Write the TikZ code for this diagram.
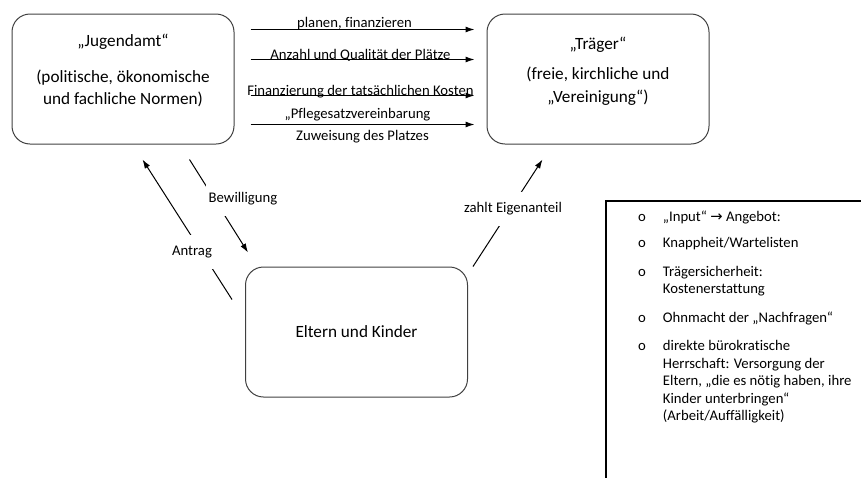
\documentclass[tikz,border=0pt]{standalone}
\usepackage{fontspec}
\setmainfont[Ligatures={TeX,NoCommon}]{Carlito}
\newfontfamily\pfeilfont{DejaVu Sans}
\usetikzlibrary{arrows.meta}
\tikzset{
  rahmen/.style={draw=black!75, line width=1pt, rounded corners=18pt, minimum width=222pt, minimum height=130pt},
  boxtext/.style={font=\fontsize{17.2}{22.5}\selectfont, align=center, inner sep=0pt},
  pfeil/.style={line width=1pt, -{Latex[length=9pt,width=6pt]}},
  beschriftung/.style={font=\fontsize{14.7}{17.5}\selectfont, inner sep=0pt, anchor=base},
  luecke/.style={font=\fontsize{14.7}{17.5}\selectfont, fill=white, inner xsep=3pt, minimum height=34pt},
  listrahmen/.style={draw=black, line width=1.2pt},
  listtext/.style={font=\fontsize{14.7}{17.5}\selectfont, inner sep=0pt}
}
\begin{document}
\begin{tikzpicture}[x=1pt,y=-1pt]
    \useasboundingbox (0,0) rectangle (861,477);

    % Kästen
    \node[rahmen] (jugendamt) at (123,79) {};
    \node[rahmen] (traeger) at (598,79) {};
    \node[rahmen, boxtext] (eltern) at (356.5,332) {Eltern und Kinder};

    % Texte in den Kästen
    \node[boxtext] (jugendamttitel) at (123,42) {„Jugendamt“};
    \node[boxtext] (jugendamtnormen) at (123,88.5) {(politische, ökonomische\\und fachliche Normen)};
    \node[boxtext] (traegertitel) at (598,45) {„Träger“};
    \node[boxtext] (traegerarten) at (598,86) {(freie, kirchliche und\\„Vereinigung“)};

    % Pfeile vom Jugendamt zum Träger
    \draw[pfeil] ([shift={(16,16)}]jugendamt.north east) -- ([shift={(-12,16)}]traeger.north west)
        node[beschriftung, midway, xshift=-8pt, yshift=2.5pt] (planen) {planen, finanzieren};
    \draw[pfeil] ([shift={(16,46)}]jugendamt.north east) -- ([shift={(-12,46)}]traeger.north west)
        node[beschriftung, midway, xshift=-2pt, yshift=0.5pt] (anzahl) {Anzahl und Qualität der Plätze};
    \draw[pfeil] ([shift={(16,82)}]jugendamt.north east) -- ([shift={(-12,82)}]traeger.north west)
        node[beschriftung, midway, xshift=-2pt, yshift=0.5pt] (kosten) {Finanzierung der tatsächlichen Kosten};
    \draw[pfeil] ([shift={(16,111)}]jugendamt.north east) -- ([shift={(-12,111)}]traeger.north west)
        node[beschriftung, midway, xshift=-5pt, yshift=6.5pt] (pflegesatz) {„Pflegesatzvereinbarung}
        node[beschriftung, midway, yshift=-15.5pt] (zuweisung) {Zuweisung des Platzes};

    % Antrag, Bewilligung, Eigenanteil
    \draw[pfeil] ([shift={(-13,33)}]eltern.north west) -- ([shift={(131,15)}]jugendamt.south west);
    \node[luecke] (antrag) at (192,252) {Antrag};
    \draw[pfeil] ([shift={(178,15)}]jugendamt.south west) -- ([shift={(3,-14)}]eltern.north west);
    \node[luecke] (bewilligung) at (243,199) {Bewilligung};
    \draw[pfeil] ([shift={(5,0)}]eltern.north east) -- ([shift={(56,15)}]traeger.south west);
    \node[luecke] (eigenanteil) at (513,209) {zahlt Eigenanteil};

    % Liste rechts
    \draw[listrahmen] (606,201) rectangle (900,520);
    \node[listtext, anchor=base west] (liste) at (638,221) {%
      \begin{tabular}[t]{@{}l@{\hspace{17pt}}l@{}}
        o & „Input“ {\pfeilfont →} Angebot:\\[8.5pt]
        o & Knappheit/Wartelisten\\[11.5pt]
        o & Trägersicherheit:\\
          & Kostenerstattung\\[11.5pt]
        o & Ohnmacht der „Nachfragen“\\[10.5pt]
        o & direkte bürokratische\\
          & Herrschaft: Versorgung der\\
          & Eltern, „die es nötig haben, ihre\\
          & Kinder unterbringen“\\
          & (Arbeit/Auffälligkeit)
      \end{tabular}};
\end{tikzpicture}
\end{document}
